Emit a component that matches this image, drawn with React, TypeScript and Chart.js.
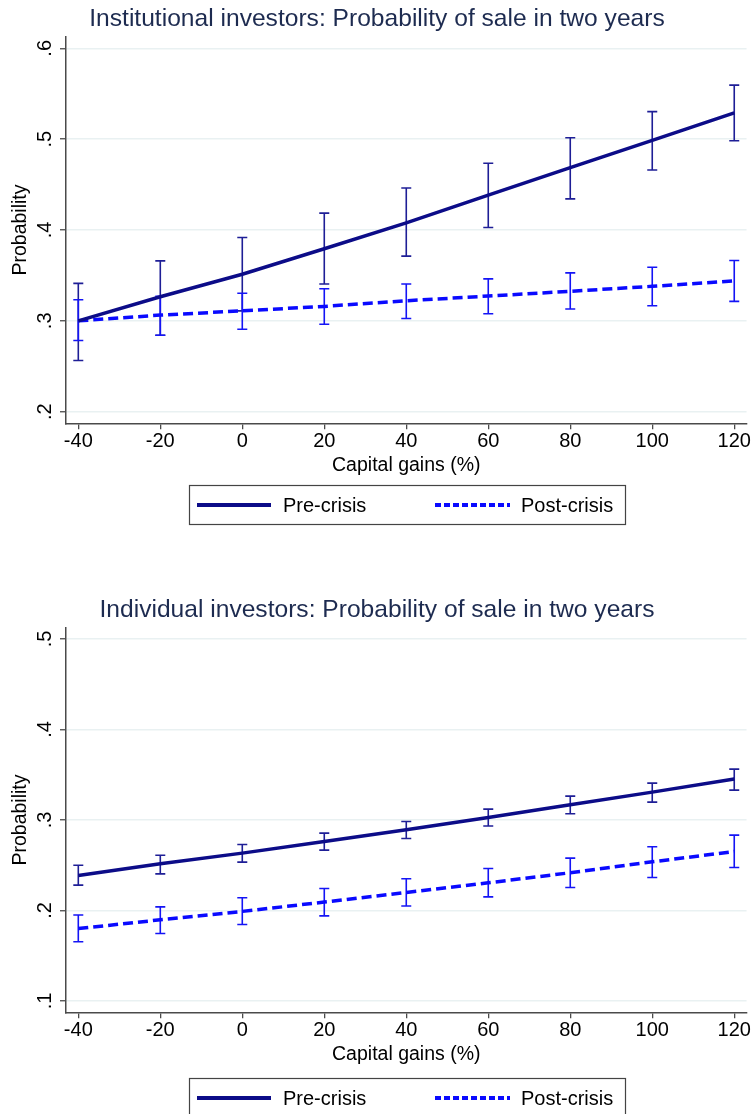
import React, { useEffect, useRef } from "react";
import { Chart, registerables } from "chart.js";

Chart.register(...registerables);

// ---------- data ----------
const capitalGains = [-40, -20, 0, 20, 40, 60, 80, 100, 120];
const xTickValues = [-40, -20, 0, 20, 40, 60, 80, 100, 120];

const instPre = [0.3, 0.3265, 0.3513, 0.3794, 0.4078, 0.4384, 0.4687, 0.4986, 0.5289];
const instPreLow = [0.2563, 0.2842, 0.311, 0.3406, 0.3712, 0.4027, 0.4343, 0.4661, 0.4982];
const instPreHigh = [0.3412, 0.366, 0.3918, 0.4186, 0.4462, 0.4735, 0.5016, 0.5303, 0.5595];
const instPost = [0.3, 0.3063, 0.311, 0.3159, 0.3221, 0.3273, 0.3325, 0.338, 0.344];
const instPostLow = [0.2784, 0.2842, 0.2908, 0.2963, 0.3026, 0.3078, 0.313, 0.3166, 0.3214];
const instPostHigh = [0.3232, 0.327, 0.3303, 0.3354, 0.3406, 0.3462, 0.3528, 0.359, 0.3664];

const indPre = [0.2387, 0.2516, 0.2634, 0.2763, 0.2892, 0.3028, 0.3168, 0.3308, 0.3452];
const indPreLow = [0.228, 0.2405, 0.2535, 0.2667, 0.2796, 0.2933, 0.3069, 0.3198, 0.333];
const indPreHigh = [0.25, 0.261, 0.273, 0.2855, 0.2983, 0.312, 0.3264, 0.3408, 0.3562];
const indPost = [0.18, 0.1897, 0.199, 0.2093, 0.2199, 0.2306, 0.2417, 0.2538, 0.2652];
const indPostLow = [0.1654, 0.1746, 0.1845, 0.194, 0.2049, 0.2151, 0.2254, 0.2365, 0.2475];
const indPostHigh = [0.195, 0.204, 0.214, 0.2243, 0.235, 0.2464, 0.2579, 0.2704, 0.2833];

const instYTicks = [0.2, 0.3, 0.4, 0.5, 0.6];
const instYTickLabels = [".2", ".3", ".4", ".5", ".6"];
const indYTicks = [0.1, 0.2, 0.3, 0.4, 0.5];
const indYTickLabels = [".1", ".2", ".3", ".4", ".5"];

const seriesLabels = ["Pre-crisis", "Post-crisis"];
const instTitle = "Institutional investors: Probability of sale in two years";
const indTitle = "Individual investors: Probability of sale in two years";
const xTitle = "Capital gains (%)";
const yTitle = "Probability";

// ---------- styles ----------
const FONT = "'Liberation Sans', Arial, Helvetica, sans-serif";
const PRE_COLOR = "#0c0c88";
const PRE_BAR = "#1e1e96";
const POST_COLOR = "#0a0aff";
const POST_BAR = "#1414f5";
const TITLE_COLOR = "#1d2b50";
const AXIS_COLOR = "#4a4a4a";
const GRID_COLOR = "#e9f1f2";

type PanelProps = {
  title: string;
  pre: number[];
  preLow: number[];
  preHigh: number[];
  post: number[];
  postLow: number[];
  postHigh: number[];
  yTicks: number[];
  yTickLabels: string[];
  yMin: number;
  yMax: number;
  padTop: number;
  padBottom: number;
  titleY: number;
  legendTop: number;
  top: number;
};

const W = 751;
const H = 557;

function Panel(p: PanelProps) {
  const ref = useRef<HTMLCanvasElement | null>(null);
  useEffect(() => {
    if (!ref.current) return;
    const errorBars = {
      id: "errorBars",
      beforeDatasetsDraw(chart: any) {
        const ctx = chart.ctx;
        const xs = chart.scales.x;
        const ys = chart.scales.y;
        const sets = [
          { lo: p.preLow, hi: p.preHigh, color: PRE_BAR },
          { lo: p.postLow, hi: p.postHigh, color: POST_BAR },
        ];
        ctx.save();
        sets.forEach((s) => {
          ctx.strokeStyle = s.color;
          ctx.lineWidth = 1.6;
          capitalGains.forEach((xv, i) => {
            const px = xs.getPixelForValue(xv);
            const y1 = ys.getPixelForValue(s.lo[i]);
            const y2 = ys.getPixelForValue(s.hi[i]);
            ctx.beginPath();
            ctx.moveTo(px, y1);
            ctx.lineTo(px, y2);
            ctx.moveTo(px - 5, y1);
            ctx.lineTo(px + 5, y1);
            ctx.moveTo(px - 5, y2);
            ctx.lineTo(px + 5, y2);
            ctx.stroke();
          });
        });
        ctx.restore();
      },
    };
    const decorations = {
      id: "decorations",
      afterDraw(chart: any) {
        const ctx = chart.ctx;
        const ys = chart.scales.y;
        ctx.save();
        // title
        ctx.fillStyle = TITLE_COLOR;
        ctx.font = `24.6px ${FONT}`;
        ctx.textAlign = "center";
        ctx.textBaseline = "middle";
        ctx.fillText(p.title, 377, p.titleY);
        // rotated y tick labels
        ctx.fillStyle = "#000";
        ctx.font = `20px ${FONT}`;
        p.yTicks.forEach((v, i) => {
          const py = ys.getPixelForValue(v);
          ctx.save();
          ctx.translate(45, py);
          ctx.rotate(-Math.PI / 2);
          ctx.fillText(p.yTickLabels[i], 0, 0);
          ctx.restore();
        });
        // legend
        const lx = 189.5;
        const lw = 436;
        const lt = p.legendTop + 0.5;
        const lh = 39;
        ctx.strokeStyle = "#444";
        ctx.lineWidth = 1.2;
        ctx.strokeRect(lx, lt, lw, lh);
        const ly = lt + lh / 2;
        const ds = chart.data.datasets;
        const items = [
          { x0: 197, x1: 271, tx: 283 },
          { x0: 435, x1: 510, tx: 521 },
        ];
        items.forEach((it, i) => {
          ctx.beginPath();
          ctx.strokeStyle = ds[i].borderColor;
          ctx.lineWidth = 4;
          ctx.setLineDash(i === 1 ? [6, 3] : []);
          ctx.moveTo(it.x0, ly);
          ctx.lineTo(it.x1, ly);
          ctx.stroke();
          ctx.setLineDash([]);
          ctx.fillStyle = "#000";
          ctx.font = `20px ${FONT}`;
          ctx.textAlign = "left";
          ctx.fillText(ds[i].label, it.tx, ly + 1);
        });
        ctx.restore();
      },
    };

    const chart = new Chart(ref.current, {
      type: "line",
      data: {
        datasets: [
          {
            label: seriesLabels[0],
            data: capitalGains.map((x, i) => ({ x, y: p.pre[i] })),
            borderColor: PRE_COLOR,
            borderWidth: 3.5,
            pointRadius: 0,
            tension: 0,
            fill: false,
          },
          {
            label: seriesLabels[1],
            data: capitalGains.map((x, i) => ({ x, y: p.post[i] })),
            borderColor: POST_COLOR,
            borderWidth: 3.5,
            borderDash: [10, 5],
            pointRadius: 0,
            tension: 0,
            fill: false,
          },
        ],
      },
      options: {
        animation: false,
        responsive: false,
        maintainAspectRatio: false,
        events: [],
        layout: { padding: { left: 0, top: p.padTop, right: 4, bottom: p.padBottom } },
        plugins: {
          legend: { display: false },
          title: { display: false },
          tooltip: { enabled: false },
        },
        scales: {
          x: {
            type: "linear",
            min: -43,
            max: 123,
            afterBuildTicks: (s: any) => {
              s.ticks = xTickValues.map((v) => ({ value: v }));
            },
            afterFit: (s: any) => {
              s.height = 60;
            },
            border: { display: true, color: AXIS_COLOR, width: 1.5 },
            grid: {
              display: true,
              drawOnChartArea: false,
              drawTicks: true,
              tickLength: 6,
              color: AXIS_COLOR,
              tickColor: AXIS_COLOR,
              lineWidth: 1.3,
            },
            ticks: {
              color: "#000",
              font: { family: FONT, size: 20 },
              padding: 0,
              maxRotation: 0,
              minRotation: 0,
              autoSkip: false,
              callback: (v: any) => String(v),
            },
            title: {
              display: true,
              text: xTitle,
              color: "#000",
              font: { family: FONT, size: 19.5, lineHeight: 1.2 },
              padding: { top: 0, bottom: 6 },
            },
          },
          y: {
            type: "linear",
            min: p.yMin,
            max: p.yMax,
            afterBuildTicks: (s: any) => {
              s.ticks = p.yTicks.map((v) => ({ value: v }));
            },
            afterFit: (s: any) => {
              s.width = 66;
            },
            border: { display: true, color: AXIS_COLOR, width: 1.5 },
            grid: {
              display: true,
              drawOnChartArea: true,
              drawTicks: true,
              tickLength: 6,
              color: GRID_COLOR,
              tickColor: AXIS_COLOR,
              lineWidth: 1.5,
              tickWidth: 1.3,
            },
            ticks: { display: false },
            title: {
              display: true,
              text: yTitle,
              color: "#000",
              font: { family: FONT, size: 19.5, lineHeight: 1.2 },
              padding: { top: 9, bottom: 0 },
            },
          },
        },
      },
      plugins: [errorBars, decorations],
    } as any);
    return () => chart.destroy();
  }, []);
  return (
    <canvas
      ref={ref}
      width={W}
      height={H}
      style={{ position: "absolute", left: 0, top: p.top, width: W, height: H }}
    />
  );
}

export default function App() {
  return (
    <div style={{ position: "absolute", left: 0, top: 0, width: W, height: 2 * H, background: "#fff" }}>
      <Panel
        title={instTitle}
        pre={instPre}
        preLow={instPreLow}
        preHigh={instPreHigh}
        post={instPost}
        postLow={instPostLow}
        postHigh={instPostHigh}
        yTicks={instYTicks}
        yTickLabels={instYTickLabels}
        yMin={0.1872}
        yMax={0.6128}
        padTop={36.7}
        padBottom={557 - 423.3 - 60}
        titleY={19}
        legendTop={485}
        top={0}
      />
      <Panel
        title={indTitle}
        pre={indPre}
        preLow={indPreLow}
        preHigh={indPreHigh}
        post={indPost}
        postLow={indPostLow}
        postHigh={indPostHigh}
        yTicks={indYTicks}
        yTickLabels={indYTickLabels}
        yMin={0.0875}
        yMax={0.5125}
        padTop={70.7}
        padBottom={557 - 455.3 - 60}
        titleY={53}
        legendTop={521}
        top={557}
      />
    </div>
  );
}
